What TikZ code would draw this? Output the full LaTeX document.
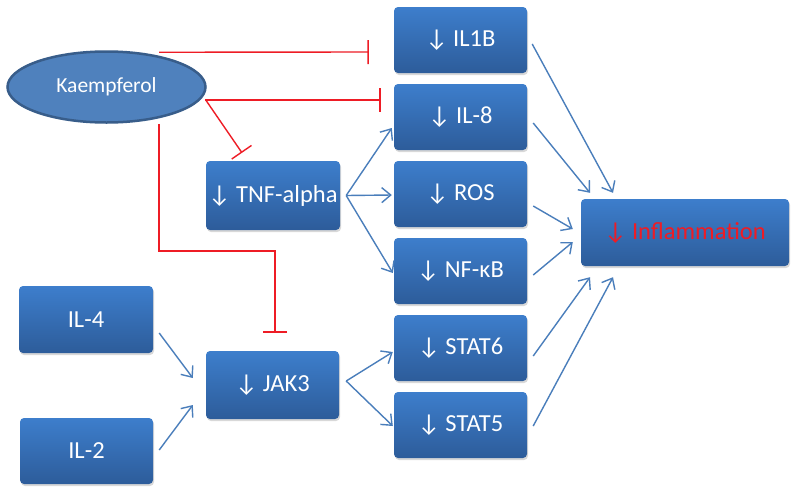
\documentclass[tikz,border=0pt]{standalone}
\usepackage{fontspec}
\setmainfont{Carlito}
\usetikzlibrary{arrows.meta,shadows,calc,shapes.geometric}
\definecolor{boxtop}{HTML}{3D7ECC}
\definecolor{boxbot}{HTML}{2D5C9A}
\definecolor{lineblue}{HTML}{4A7EBB}
\definecolor{inhred}{HTML}{EE1C25}
\definecolor{ellfill}{HTML}{4F81BD}
\definecolor{elldraw}{HTML}{385D8A}
\begin{document}
\begin{tikzpicture}[x=1pt,y=-1pt,
 gbox/.style={rectangle, rounded corners=4pt, top color=boxtop, bottom color=boxbot, draw=none, text=white,
   font=\fontsize{24.5}{28}\selectfont, minimum width=133pt, minimum height=66pt, inner sep=0pt,
   drop shadow={shadow xshift=1pt, shadow yshift=-2pt, opacity=0.3}},
 act/.style={draw=lineblue, line width=1.4pt, -{Straight Barb[length=9pt,width=15pt,line width=1.4pt]}},
 inh/.style={draw=inhred, line width=1.4pt, -{Bar[width=24pt,line width=1.4pt]}}
]
\fill[white] (0,0) rectangle (800,499);
\useasboundingbox (0,0) rectangle (800,499);

\node[ellipse, draw=elldraw, line width=2.5pt, fill=ellfill, minimum width=198pt, minimum height=71pt,
  text=white, font=\fontsize{21.5}{24}\selectfont] (K) at (106.5,87) {Kaempferol};

\node[gbox] (IL1B) at (460.5,40) {↓ IL1B};
\node[gbox] (IL8) at (460.5,117) {↓ IL-8};
\node[gbox] (ROS) at (460.5,194) {↓ ROS};
\node[gbox] (NFKB) at (460.5,271) {↓ NF-κB};
\node[gbox] (STAT6) at (460.5,348) {↓ STAT6};
\node[gbox] (STAT5) at (460.5,425) {↓ STAT5};
\node[gbox, minimum width=208pt, minimum height=67pt] (INF) at (685,232.5) {\color{inhred}↓ Inflammation};
\node[gbox, minimum width=134pt, minimum height=69pt] (TNF) at (273,195.5) {↓ TNF-alpha};
\node[gbox, minimum height=68pt] (JAK3) at (272.5,385) {↓ JAK3};
\node[gbox, minimum width=134pt, minimum height=67pt] (IL4) at (86,319.5) {IL-4};
\node[gbox] (IL2) at (86.5,451) {IL-2};

% inhibitions
\draw[inh] ($(K.north)+(52.5,2)$) -- ($(IL1B.west)+(-25,12)$);
\draw[inh] ($(K.east)+(-2,13)$) -- ($(IL8.west)+(-13,-17)$);
\draw[inh] ($(K.east)+(-1,13)$) -- ($(TNF.north)+(-31,-8)$);
\draw[inh] ($(K.south)+(52.5,0)$) |- ($(JAK3.north)+(2.5,-100)$) -- ($(JAK3.north)+(2.5,-18)$);

% activations
\draw[act] ($(TNF.east)+(6,0)$) -- ($(IL8.west)+(-2,11)$);
\draw[act] ($(TNF.east)+(6,0)$) -- ($(ROS.west)+(-2,1)$);
\draw[act] ($(TNF.east)+(6,0)$) -- ($(NFKB.west)+(-1,2)$);
\draw[act] ($(JAK3.east)+(7,-4)$) -- ($(STAT6.west)+(-1,4)$);
\draw[act] ($(JAK3.east)+(7,-4)$) -- ($(STAT5.west)+(-1,1)$);
\draw[act] ($(IL4.east)+(6,13.5)$) -- ($(JAK3.west)+(-13,-7)$);
\draw[act] ($(IL2.east)+(6,-1)$) -- ($(JAK3.west)+(-13,20)$);

\draw[act] ($(IL1B.east)+(5,4)$) -- ($(INF.north)+(-72,-6)$);
\draw[act] ($(IL8.east)+(6,6)$) -- ($(INF.north)+(-95,-6)$);
\draw[act] ($(ROS.east)+(6,12)$) -- ($(INF.west)+(-8,-3.5)$);
\draw[act] ($(NFKB.east)+(6,4)$) -- ($(INF.west)+(-8,9.5)$);
\draw[act] ($(STAT6.east)+(6,8)$) -- ($(INF.south)+(-95,11)$);
\draw[act] ($(STAT5.east)+(6,1)$) -- ($(INF.south)+(-72,11)$);
\end{tikzpicture}
\end{document}
